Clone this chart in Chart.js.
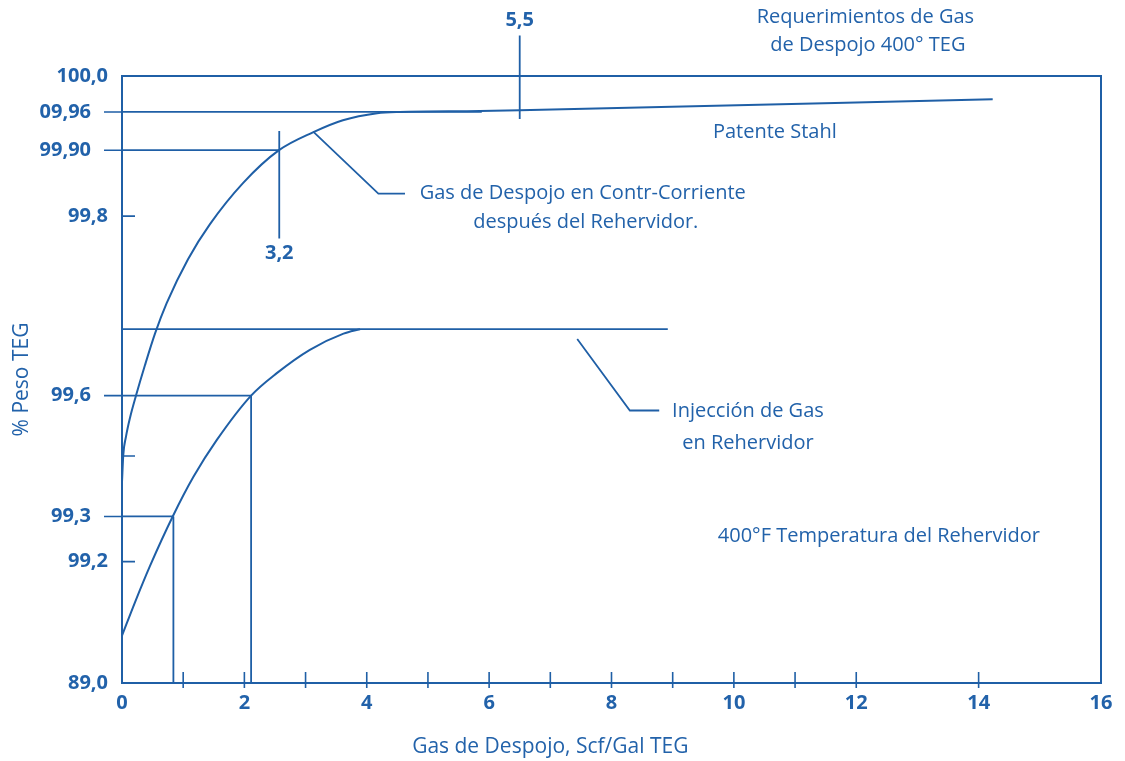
<!DOCTYPE html>
<html>
<head>
<meta charset="utf-8">
<script src="https://cdn.jsdelivr.net/npm/chart.js@4.4.1/dist/chart.umd.min.js"></script>
<style>
  html, body { margin: 0; padding: 0; background: #fff; }
  #wrap { width: 1125px; height: 761px; }
</style>
</head>
<body>
<div id="wrap"><canvas id="teg-chart"></canvas></div>
<script>
const BLUE = '#1f5fa6';
const BLUE_TEXT = '#2262aa';
const FONT = "'Open Sans', 'Noto Sans', sans-serif";

Chart.defaults.font.family = FONT;
Chart.defaults.color = BLUE_TEXT;

// y axis (TEG weight %), printed as on the original sheet
const yTicks = [100.0, 99.96, 99.90, 99.8, 99.6, 99.3, 99.2, 99.0];
const yTickLabels = ['100,0', '09,96', '99,90', '99,8', '99,6', '99,3', '99,2', '89,0'];
const yMinorTicks = [99.8, 99.45, 99.2];
const yLeadTicks = [99.96, 99.90, 99.6, 99.3];

// x axis (stripping gas, scf/gal TEG)
const xTickLabels = [0, 2, 4, 6, 8, 10, 12, 14, 16];
const xTickMarks = [1, 2, 3, 4, 5, 6, 7, 8, 9, 10, 11, 12, 14];
const xTitle = 'Gas de Despojo, Scf/Gal TEG';

// counter-current stripping gas after the reboiler
const counterX = [0, 0.021, 0.065, 0.131, 0.229, 0.376, 0.539, 0.730, 1.079, 1.438, 1.977, 2.566, 3.12, 3.61, 4.17, 4.54, 5.85, 6.50, 14.23];
const counterY = [99.386, 99.453, 99.498, 99.545, 99.600, 99.634, 99.669, 99.703, 99.752, 99.791, 99.850, 99.900, 99.928, 99.947, 99.958, 99.960, 99.961, 99.962, 99.974];

// gas injected in the reboiler
const injectionX = [0, 0.212, 0.458, 0.829, 1.17, 1.55, 2.11, 2.53, 3.07, 3.62, 3.89];
const injectionY = [99.078, 99.133, 99.193, 99.300, 99.399, 99.490, 99.600, 99.625, 99.651, 99.669, 99.674];

// read-off lines (each pair is one straight segment)
const readingsX = [[0, 5.88], [0, 2.57], [2.57, 2.57], [6.50, 6.50], [0, 8.92], [0, 2.11], [2.11, 2.11], [0, 0.84], [0.84, 0.84]];
const readingsY = [[99.96, 99.96], [99.90, 99.90], [99.930, 99.775], [100.045, 99.949], [99.674, 99.674], [99.6, 99.6], [99.6, 99.0], [99.3, 99.3], [99.3, 99.0]];

// callout leaders
const leadersX = [[3.125, 4.19, 4.625], [7.44, 8.30, 8.78]];
const leadersY = [[99.929, 99.834, 99.834], [99.663, 99.563, 99.563]];

const notes = [
  { text: 'Requerimientos de Gas', x: 12.15, y: 100.065 },
  { text: 'de Despojo 400° TEG', x: 12.19, y: 100.034 },
  { text: '5,5', x: 6.5, y: 100.062, bold: true },
  { text: 'Patente Stahl', x: 10.67, y: 99.928 },
  { text: 'Gas de Despojo en Contr-Corriente', x: 7.53, y: 99.835 },
  { text: 'después del Rehervidor.', x: 7.58, y: 99.793 },
  { text: '3,2', x: 2.57, y: 99.759, bold: true },
  { text: 'Injección de Gas', x: 10.23, y: 99.562 },
  { text: 'en Rehervidor', x: 10.23, y: 99.482 },
  { text: '400°F Temperatura del Rehervidor', x: 12.37, y: 99.255 },
];

// the y axis is stretched near 100 %, piecewise linear between these stops
const yStops = yTicks.slice().reverse();
const yStopFractions = [0, 0.2, 0.2744, 0.4735, 0.7692, 0.8778, 0.9408, 1];

function toFraction(v) {
  let i = 0;
  while (i < yStops.length - 2 && v > yStops[i + 1]) i++;
  const t = (v - yStops[i]) / (yStops[i + 1] - yStops[i]);
  return yStopFractions[i] + t * (yStopFractions[i + 1] - yStopFractions[i]);
}

function fromFraction(f) {
  let i = 0;
  while (i < yStopFractions.length - 2 && f > yStopFractions[i + 1]) i++;
  const t = (f - yStopFractions[i]) / (yStopFractions[i + 1] - yStopFractions[i]);
  return yStops[i] + t * (yStops[i + 1] - yStops[i]);
}

class SteppedScale extends Chart.LinearScale {
  getPixelForValue(value) {
    return this.getPixelForDecimal(toFraction(value));
  }
  getValueForPixel(pixel) {
    return fromFraction(this.getDecimalForPixel(pixel));
  }
}
SteppedScale.id = 'stepped';
SteppedScale.defaults = Chart.LinearScale.defaults;
Chart.register(SteppedScale);

const pts = (xs, ys) => xs.map((x, i) => ({ x: x, y: ys[i] }));

const lineStyle = {
  borderColor: BLUE,
  borderWidth: 1.8,
  pointRadius: 0,
  fill: false,
  tension: 0,
};

const datasets = [
  { ...lineStyle, data: pts(counterX, counterY), borderWidth: 2, cubicInterpolationMode: 'monotone' },
  { ...lineStyle, data: pts(injectionX, injectionY), borderWidth: 2, cubicInterpolationMode: 'monotone' },
];
readingsX.forEach((xs, i) => datasets.push({ ...lineStyle, data: pts(xs, readingsY[i]), clip: false }));
leadersX.forEach((xs, i) => datasets.push({ ...lineStyle, data: pts(xs, leadersY[i]) }));

const framePlugin = {
  id: 'frame',
  afterDraw(chart) {
    const { ctx, chartArea: a, scales: { x, y } } = chart;
    ctx.save();
    ctx.strokeStyle = BLUE;

    // top and right side of the box
    ctx.lineWidth = 2;
    ctx.beginPath();
    ctx.moveTo(a.left, a.top);
    ctx.lineTo(a.right, a.top);
    ctx.lineTo(a.right, a.bottom);
    ctx.stroke();

    ctx.lineWidth = 1.6;
    ctx.beginPath();
    xTickMarks.forEach(v => {
      const px = x.getPixelForValue(v);
      ctx.moveTo(px, a.bottom - 11);
      ctx.lineTo(px, a.bottom + 5);
    });
    yMinorTicks.forEach(v => {
      const py = y.getPixelForValue(v);
      ctx.moveTo(a.left, py);
      ctx.lineTo(a.left + 13, py);
    });
    yLeadTicks.forEach(v => {
      const py = y.getPixelForValue(v);
      ctx.moveTo(a.left - 18, py);
      ctx.lineTo(a.left, py);
    });
    ctx.stroke();

    ctx.fillStyle = BLUE_TEXT;
    ctx.textBaseline = 'middle';
    ctx.textAlign = 'right';
    ctx.font = 'bold 20px ' + FONT;
    yTicks.forEach((v, i) => {
      const gap = yLeadTicks.includes(v) ? 31 : 14;
      ctx.fillText(yTickLabels[i], a.left - gap, y.getPixelForValue(v));
    });

    ctx.textAlign = 'center';
    notes.forEach(n => {
      ctx.font = (n.bold ? 'bold 20px ' : '20px ') + FONT;
      ctx.fillText(n.text, x.getPixelForValue(n.x), y.getPixelForValue(n.y));
    });

    ctx.font = '21px ' + FONT;
    ctx.fillText(xTitle, x.getPixelForValue(7), x.bottom - 14);
    ctx.restore();
  }
};

new Chart(document.getElementById('teg-chart'), {
  type: 'line',
  data: { datasets: datasets },
  options: {
    responsive: true,
    maintainAspectRatio: false,
    animation: false,
    layout: { padding: { top: 76, right: 24, left: 0, bottom: 0 } },
    plugins: {
      legend: { display: false },
      tooltip: { enabled: false },
    },
    scales: {
      x: {
        type: 'linear',
        min: 0,
        max: 16,
        grid: { display: false },
        border: { color: BLUE, width: 2 },
        afterBuildTicks: scale => { scale.ticks = xTickLabels.map(v => ({ value: v })); },
        afterFit: scale => { scale.height = 78; },
        ticks: {
          color: BLUE_TEXT,
          padding: 0,
          font: { size: 20, weight: 'bold' },
        },
      },
      y: {
        type: 'stepped',
        min: 99,
        max: 100,
        grid: { display: false },
        border: { color: BLUE, width: 2 },
        ticks: { display: false },
        afterFit: scale => { scale.width = 122; },
        title: {
          display: true,
          text: '% Peso TEG',
          color: BLUE_TEXT,
          font: { size: 21 },
          padding: { top: 9, bottom: 0 },
        },
      },
    },
  },
  plugins: [framePlugin],
});
</script>
</body>
</html>
